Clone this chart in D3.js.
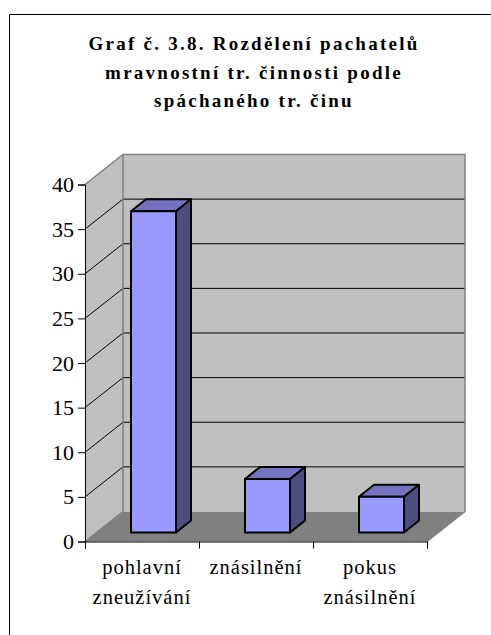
<!DOCTYPE html>
<html>
<head>
<meta charset="utf-8">
<script src="https://cdn.jsdelivr.net/npm/d3@7"></script>
<style>
  html, body { margin: 0; padding: 0; background: #fff; }
  svg { display: block; }
  text { font-family: "Liberation Serif", serif; fill: #000; }
</style>
</head>
<body>
<div id="chart"></div>
<script>
// Data
const categories = ["pohlavní zneužívání", "znásilnění", "pokus znásilnění"];
const values = [36, 6, 4];
const yTicks = [0, 5, 10, 15, 20, 25, 30, 35, 40];
const titleLines = [
    "Graf č. 3.8. Rozdělení pachatelů",
    "mravnostní tr. činnosti podle",
    "spáchaného tr. činu"
];

const width = 491;
const height = 635;

// front edge of the plot and the depth of the fake 3d box
const plot = { left: 85, right: 427, top: 184.5, bottom: 541.5 };
const depth = { x: 38, y: -30 };
// bars stand part way into the box
const barShift = { x: 11.5, y: -9 };
const barDepth = { x: 15, y: -12 };

const svg = d3.select("#chart")
    .append("svg")
    .attr("width", width)
    .attr("height", height);

// outer frame, open on the right and at the bottom
svg.append("path")
    .attr("d", d3.line()([[9.5, height], [9.5, 14.5], [width, 14.5]]))
    .attr("fill", "none")
    .attr("stroke", "#000")
    .attr("stroke-width", 1);

// Title
svg.append("g")
    .selectAll("text")
    .data(titleLines)
    .join("text")
    .attr("x", 254)
    .attr("y", (d, i) => 50 + i * 28.7)
    .attr("text-anchor", "middle")
    .attr("font-size", 19)
    .attr("font-weight", "bold")
    .attr("letter-spacing", 2.25)
    .text(d => d);

// Scales
const x = d3.scaleBand()
    .domain(categories)
    .range([plot.left, plot.right])
    .paddingInner(0.605)
    .paddingOuter(0.3025);

const y = d3.scaleLinear()
    .domain([0, 40])
    .range([plot.bottom, plot.top]);

const edges = d3.scaleLinear()
    .domain([0, categories.length])
    .range([plot.left, plot.right]);

const poly = pts => d3.line()(pts) + "Z";
const line2 = d3.line();

// Floor
svg.append("path")
    .attr("d", poly([
        [plot.left, plot.bottom],
        [plot.right, plot.bottom],
        [plot.right + depth.x, plot.bottom + depth.y],
        [plot.left + depth.x, plot.bottom + depth.y]
    ]))
    .attr("fill", "#808080");

// Side wall
svg.append("path")
    .attr("d", poly([
        [plot.left, plot.bottom],
        [plot.left + depth.x, plot.bottom + depth.y],
        [plot.left + depth.x, plot.top + depth.y],
        [plot.left, plot.top]
    ]))
    .attr("fill", "#c0c0c0");

// Back wall
svg.append("rect")
    .attr("x", plot.left + depth.x)
    .attr("y", plot.top + depth.y)
    .attr("width", plot.right - plot.left)
    .attr("height", plot.bottom - plot.top)
    .attr("fill", "#c0c0c0");

// Gridlines, skipping the top and bottom edges of the box
const gridTicks = yTicks.slice(1, -1);
svg.append("g")
    .selectAll("path")
    .data(gridTicks)
    .join("path")
    .attr("d", d => line2([
        [plot.left, y(d)],
        [plot.left + depth.x, y(d) + depth.y],
        [plot.right + depth.x, y(d) + depth.y]
    ]))
    .attr("fill", "none")
    .attr("stroke", "#000")
    .attr("stroke-width", 1);

// Grey outline of the walls
svg.append("path")
    .attr("d", line2([
        [plot.left, plot.top],
        [plot.left + depth.x, plot.top + depth.y],
        [plot.right + depth.x, plot.top + depth.y],
        [plot.right + depth.x, plot.bottom + depth.y],
        [plot.right, plot.bottom]
    ]))
    .attr("fill", "none")
    .attr("stroke", "#808080")
    .attr("stroke-width", 1.5);

svg.append("path")
    .attr("d", line2([
        [plot.left + depth.x, plot.top + depth.y],
        [plot.left + depth.x, plot.bottom + depth.y],
        [plot.left, plot.bottom]
    ]))
    .attr("fill", "none")
    .attr("stroke", "#808080")
    .attr("stroke-width", 1.5);

// Bars: top, side, then front face
const bars = svg.append("g")
    .selectAll("g")
    .data(categories.map((c, i) => ({ c, v: values[i] })))
    .join("g")
    .attr("transform", `translate(${barShift.x},${barShift.y})`)
    .attr("stroke", "#000")
    .attr("stroke-width", 2)
    .attr("stroke-linejoin", "round");

bars.append("path")
    .attr("fill", "#7373bf")
    .attr("d", d => poly([
        [x(d.c), y(d.v)],
        [x(d.c) + x.bandwidth(), y(d.v)],
        [x(d.c) + x.bandwidth() + barDepth.x, y(d.v) + barDepth.y],
        [x(d.c) + barDepth.x, y(d.v) + barDepth.y]
    ]));

bars.append("path")
    .attr("fill", "#4d4d80")
    .attr("d", d => poly([
        [x(d.c) + x.bandwidth(), y(d.v)],
        [x(d.c) + x.bandwidth() + barDepth.x, y(d.v) + barDepth.y],
        [x(d.c) + x.bandwidth() + barDepth.x, y(0) + barDepth.y],
        [x(d.c) + x.bandwidth(), y(0)]
    ]));

bars.append("rect")
    .attr("fill", "#9999ff")
    .attr("x", d => x(d.c))
    .attr("y", d => y(d.v))
    .attr("width", x.bandwidth())
    .attr("height", d => y(0) - y(d.v));

// Axes
const yAxis = svg.append("g")
    .attr("transform", `translate(${plot.left},0)`)
    .call(d3.axisLeft(y).tickValues(yTicks).tickSize(7).tickPadding(4));
yAxis.selectAll("text").attr("font-size", 22).attr("font-family", "Liberation Serif");

const xAxis = svg.append("g")
    .attr("transform", `translate(0,${plot.bottom})`)
    .call(d3.axisBottom(edges).ticks(categories.length).tickSize(7).tickFormat(""));

// Category labels, wrapped on the space
const labels = svg.append("g")
    .selectAll("text")
    .data(categories)
    .join("text")
    .attr("font-size", 20.5)
    .attr("letter-spacing", 1)
    .attr("text-anchor", "middle");

labels.each(function(d) {
    const cx = x(d) + x.bandwidth() / 2;
    d3.select(this).selectAll("tspan")
        .data(d.split(" "))
        .join("tspan")
        .attr("x", cx)
        .attr("y", (w, i) => 574 + i * 30)
        .text(w => w);
});
</script>
</body>
</html>
